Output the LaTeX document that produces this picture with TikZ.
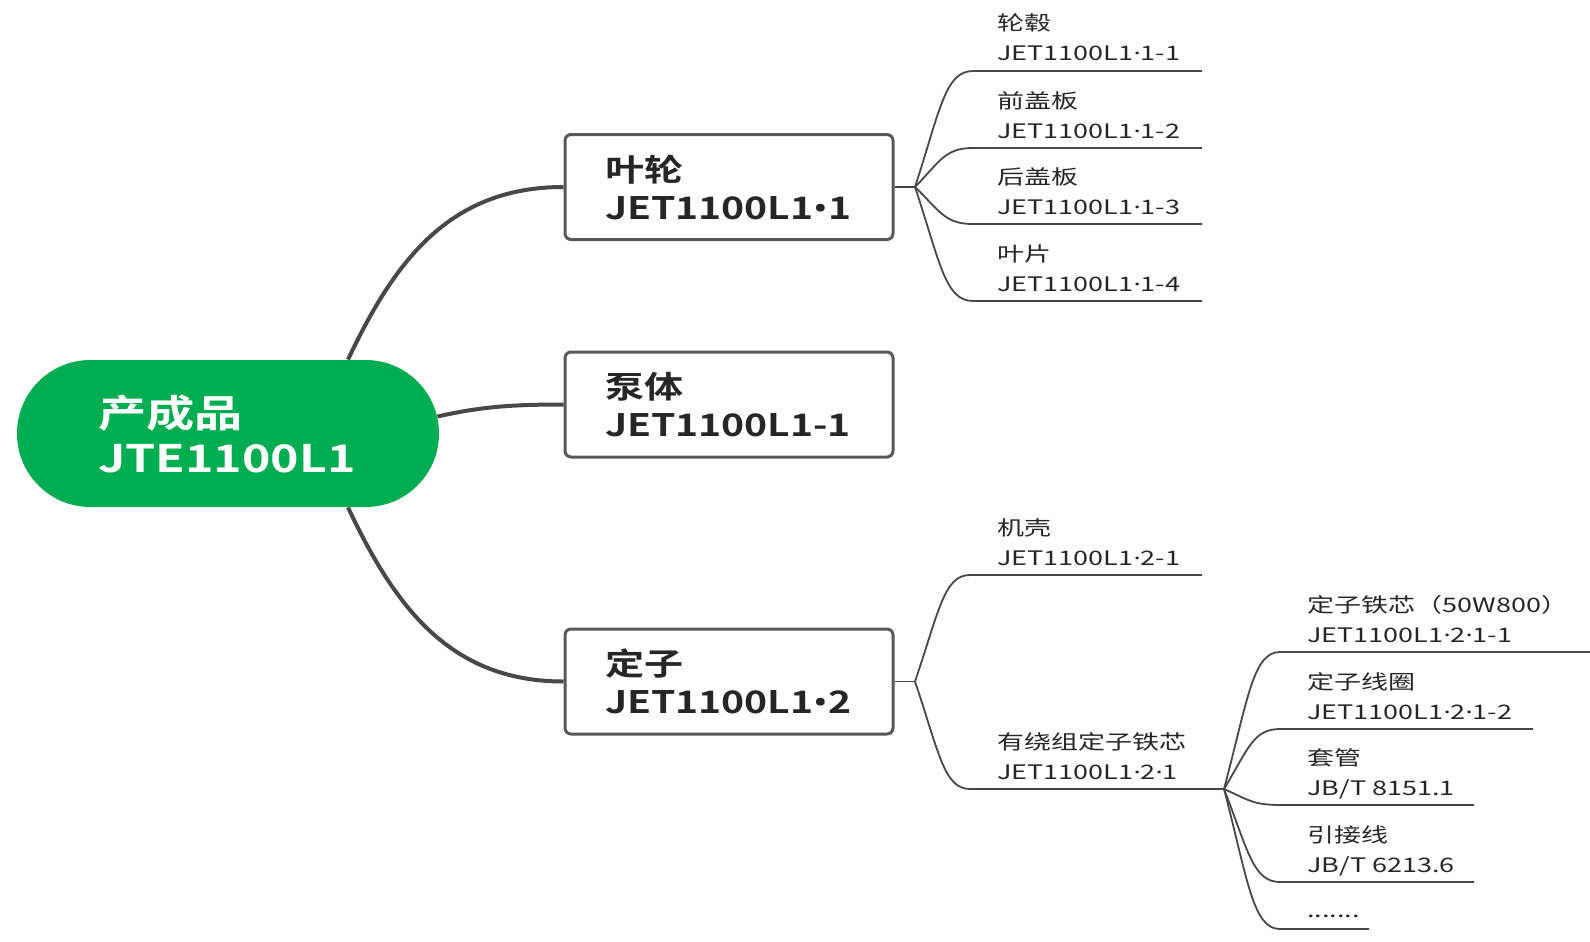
\documentclass[tikz,border=0pt]{standalone}
\usepackage{graphicx}
\usepackage{fontspec}
\setmainfont{Noto Sans CJK SC}
\newfontfamily\boldcjk{Noto Sans CJK SC Bold}
\newfontfamily\dotfont{Noto Sans}
\newcommand\ldt{{\dotfont ·}}
\newcommand\bdt{{\dotfont\bfseries •}}
\newcommand\rootsc[1]{\scalebox{1.27}[1]{#1}}
\newcommand\boxsc[1]{\scalebox{1.26}[1]{#1}}
\newcommand\leafsc[1]{\scalebox{1.35}[1]{#1}}
\usetikzlibrary{calc}
\definecolor{rootgreen}{HTML}{00AD51}
\definecolor{linegray}{HTML}{484848}
\definecolor{boxgray}{HTML}{585858}
\definecolor{txt}{HTML}{262626}
\tikzset{
  rootnode/.style={fill=rootgreen, text=white, rounded corners=36.7pt,
    minimum width=211pt, minimum height=73.5pt, inner xsep=40.5pt, inner ysep=0pt,
    text width=130pt, align=left, font=\boldcjk\fontsize{19}{22.5}\selectfont},
  boxnode/.style={draw=boxgray, line width=1.5pt, fill=white, rounded corners=3pt,
    minimum width=164pt, minimum height=52.5pt, inner xsep=20pt, inner ysep=0pt,
    text width=124pt, align=left, text=txt, font=\boldcjk\fontsize{15.5}{19}\selectfont},
  leafnode/.style={anchor=base west, inner sep=0pt, align=left, text=txt,
    font=\fontsize{10}{15}\selectfont},
  rootline/.style={draw=linegray, line width=2pt},
  leafline/.style={draw=linegray, line width=0.9pt},
  stub/.style={draw=linegray, line width=0.7pt},
}
\begin{document}
\begin{tikzpicture}[x=0.5pt,y=-0.5pt]
\useasboundingbox (0,0) rectangle (1590,942);

% main nodes
\node[rootnode] (root) at (228,433.5) {\rootsc{产成品}\\\rootsc{JTE1100L1}};
\node[boxnode] (b1) at (729,187) {\boxsc{叶轮}\\\boxsc{JET1100L1\bdt1}};
\node[boxnode] (b2) at (729,404.5) {\boxsc{泵体}\\\boxsc{JET1100L1-1}};
\node[boxnode] (b3) at (729,681.5) {\boxsc{定子}\\\boxsc{JET1100L1\bdt2}};

% root connectors
\draw[rootline] ($(root.north)+(120,0)$) .. controls (395,260) and (450,187) .. (b1.west);
\draw[rootline] ($(root.east)+(-2,-17)$) .. controls (480,407) and (510,404.5) .. (b2.west);
\draw[rootline] ($(root.south)+(120,0)$) .. controls (395,607) and (450,681.5) .. (b3.west);

% junctions
\coordinate (j1) at (915,187);
\coordinate (j3) at (915,681.5);
\coordinate (j4) at (1224,789);
\draw[stub] (b1.east) -- (j1);
\draw[stub] (b3.east) -- (j3);

% impeller leaves
\coordinate (l11s) at (973,71);  \coordinate (l11e) at (1202,71);
\coordinate (l12s) at (973,148); \coordinate (l12e) at (1202,148);
\coordinate (l13s) at (973,224); \coordinate (l13e) at (1202,224);
\coordinate (l14s) at (973,301); \coordinate (l14e) at (1202,301);
\node[leafnode] (l11) at (997,61)  {\leafsc{轮毂}\\\leafsc{JET1100L1\ldt1-1}};
\node[leafnode] (l12) at (997,138) {\leafsc{前盖板}\\\leafsc{JET1100L1\ldt1-2}};
\node[leafnode] (l13) at (997,214) {\leafsc{后盖板}\\\leafsc{JET1100L1\ldt1-3}};
\node[leafnode] (l14) at (997,291) {\leafsc{叶片}\\\leafsc{JET1100L1\ldt1-4}};
\draw[leafline] (j1) .. controls (940,110.4) and (945,71)  .. (l11s) -- (l11e);
\draw[leafline] (j1) .. controls (940,161.3) and (945,148) .. (l12s) -- (l12e);
\draw[leafline] (j1) .. controls (940,211.4) and (945,224) .. (l13s) -- (l13e);
\draw[leafline] (j1) .. controls (940,262.2) and (945,301) .. (l14s) -- (l14e);

% stator leaves
\coordinate (l21s) at (970,575); \coordinate (l21e) at (1202,575);
\coordinate (l22s) at (970,789);
\node[leafnode] (l21) at (997,565) {\leafsc{机壳}\\\leafsc{JET1100L1\ldt2-1}};
\node[leafnode] (l22) at (997,779) {\leafsc{有绕组定子铁芯}\\\leafsc{JET1100L1\ldt2\ldt1}};
\draw[leafline] (j3) .. controls (939,611) and (944,575) .. (l21s) -- (l21e);
\draw[leafline] (j3) .. controls (939,752.6) and (944,789) .. (l22s) -- (j4);

% wound core leaves
\coordinate (l31s) at (1280,652); \coordinate (l31e) at (1590,652);
\coordinate (l32s) at (1280,729); \coordinate (l32e) at (1533,729);
\coordinate (l33s) at (1280,805); \coordinate (l33e) at (1474,805);
\coordinate (l34s) at (1280,882); \coordinate (l34e) at (1474,882);
\coordinate (l35s) at (1280,929); \coordinate (l35e) at (1369,929);
\node[leafnode] (l31) at (1307,642) {\leafsc{定子铁芯（50W800）}\\\leafsc{JET1100L1\ldt2\ldt1-1}};
\node[leafnode] (l32) at (1307,719) {\leafsc{定子线圈}\\\leafsc{JET1100L1\ldt2\ldt1-2}};
\node[leafnode] (l33) at (1307,795) {\leafsc{套管}\\\leafsc{JB/T 8151.1}};
\node[leafnode] (l34) at (1307,872) {\leafsc{引接线}\\\leafsc{JB/T 6213.6}};
\node[leafnode] (l35) at (1307,917) {\leafsc{.......}};
\draw[leafline] (j4) .. controls (1248,698.6) and (1253,652) .. (l31s) -- (l31e);
\draw[leafline] (j4) .. controls (1248,749.4) and (1253,729) .. (l32s) -- (l32e);
\draw[leafline] (j4) .. controls (1248,799.6) and (1253,805) .. (l33s) -- (l33e);
\draw[leafline] (j4) .. controls (1248,850.4) and (1253,882) .. (l34s) -- (l34e);
\draw[leafline] (j4) .. controls (1248,881.4) and (1253,929) .. (l35s) -- (l35e);
\end{tikzpicture}
\end{document}
